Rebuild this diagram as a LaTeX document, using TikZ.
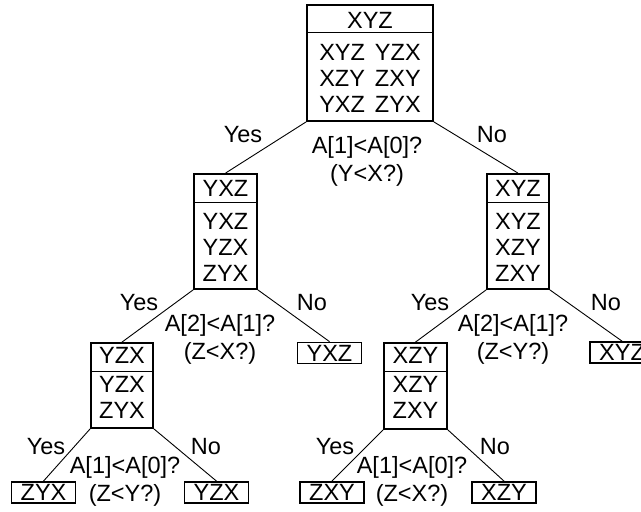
\documentclass[tikz,border=0pt]{standalone}
\usepackage{fontspec}
\setmainfont{Liberation Sans}
\begin{document}
\begin{tikzpicture}[x=1pt,y=-1pt,
  frame/.style={draw, line width=1.8pt, inner sep=0pt},
  sepline/.style={line width=1pt},
  conn/.style={line width=0.9pt},
  txt/.style={inner sep=0pt, align=center, font=\fontsize{23.5}{26}\selectfont},
  cond/.style={inner sep=0pt, align=center, anchor=north, font=\fontsize{23.5}{28}\selectfont},
  leaf/.style={frame, minimum width=64pt, minimum height=21pt, font=\fontsize{23.5}{26}\selectfont}]
\useasboundingbox (0,0) rectangle (641,512);

% root
\node[frame, minimum width=126pt, minimum height=116pt] (r) at (370,63) {};
\draw[sepline] (r.north west) ++(0,28) -- ++(126,0);
\node[txt] (rh) at (370,20.5) {XYZ};
\node[txt] (rb) at (370,78) {XYZ\hspace{10pt}YZX\\XZY\hspace{10pt}ZXY\\YXZ\hspace{10pt}ZYX};

% level 1 left
\node[frame, minimum width=63pt, minimum height=115pt] (a) at (225.5,231.5) {};
\draw[sepline] (a.north west) ++(0,29) -- ++(63,0);
\node[txt] (ah) at (225.5,188.5) {YXZ};
\node[txt] (ab) at (225.5,247.5) {YXZ\\YZX\\ZYX};

% level 1 right
\node[frame, minimum width=62pt, minimum height=115pt] (b) at (518,231.5) {};
\draw[sepline] (b.north west) ++(0,29) -- ++(62,0);
\node[txt] (bh) at (518,188.5) {XYZ};
\node[txt] (bb) at (518,247.5) {XYZ\\XZY\\ZXY};

% level 2 left
\node[frame, minimum width=62pt, minimum height=85pt] (c) at (122,385.5) {};
\draw[sepline] (c.north west) ++(0,29) -- ++(62,0);
\node[txt] (ch) at (122,355) {YZX};
\node[txt] (cb) at (122,397.5) {YZX\\ZYX};

% level 2 right
\node[frame, minimum width=63pt, minimum height=86pt] (d) at (415.5,386) {};
\draw[sepline] (d.north west) ++(0,29) -- ++(63,0);
\node[txt] (dh) at (415.5,355) {XZY};
\node[txt] (db) at (415.5,397.5) {XZY\\ZXY};

% leaves
\node[leaf] (l1) at (329.5,353) {YXZ};
\node[leaf] (l2) at (622,352.5) {XYZ};
\node[leaf] (l3) at (43.5,492.5) {ZYX};
\node[leaf] (l4) at (216.5,492.5) {YZX};
\node[leaf] (l5) at (332,492.5) {ZXY};
\node[leaf] (l6) at (504,492.5) {XZY};

% connectors
\draw[conn] (r.south west) -- (a.north);
\draw[conn] (r.south east) -- (b.north);
\draw[conn] (a.south west) -- (c.north);
\draw[conn] (a.south east) -- (l1.north);
\draw[conn] (b.south west) -- (d.north);
\draw[conn] (b.south east) -- (l2.north);
\draw[conn] (c.south west) -- (l3.north);
\draw[conn] (c.south east) -- (l4.north);
\draw[conn] (d.south west) -- (l5.north);
\draw[conn] (d.south east) -- (l6.north);

% labels
\node[txt] (y0) at (243,135) {Yes};
\node[txt] (n0) at (492,135) {No};
\node[cond] (q0) at (367,136) {A[1]<A[0]?\\(Y<X?)};

\node[txt] (y1) at (139,303) {Yes};
\node[txt] (n1) at (312,303) {No};
\node[cond] (q1) at (220,314) {A[2]<A[1]?\\(Z<X?)};

\node[txt] (y2) at (430,303) {Yes};
\node[txt] (n2) at (606,303) {No};
\node[cond] (q2) at (513,314) {A[2]<A[1]?\\(Z<Y?)};

\node[txt] (y3) at (46,447) {Yes};
\node[txt] (n3) at (206,447) {No};
\node[cond] (q3) at (125,456) {A[1]<A[0]?\\(Z<Y?)};

\node[txt] (y4) at (335,447) {Yes};
\node[txt] (n4) at (495,447) {No};
\node[cond] (q4) at (412,456) {A[1]<A[0]?\\(Z<X?)};
\end{tikzpicture}
\end{document}
